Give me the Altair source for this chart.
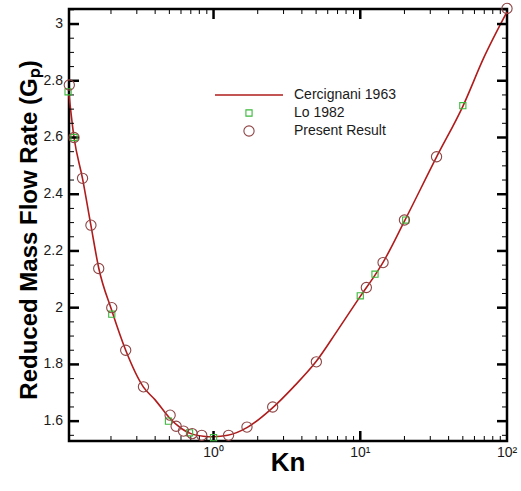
import altair as alt
import pandas as pd

# ---- data ----
cerc_kn = [0.1035, 0.112, 0.128, 0.146, 0.165, 0.2025, 0.252, 0.333, 0.40, 0.50, 0.60, 0.70, 0.85, 1.0,
           1.25, 1.7, 2.5, 3.5, 5.0, 7.0, 10.0, 12.6, 14.3, 20.0, 33.0, 50.0, 70.0, 100.0]
cerc_g = [2.75, 2.60, 2.455, 2.29, 2.14, 1.99, 1.85, 1.72, 1.675, 1.612, 1.575, 1.556, 1.547, 1.545,
          1.55, 1.578, 1.645, 1.72, 1.81, 1.92, 2.04, 2.115, 2.16, 2.305, 2.53, 2.71, 2.885, 3.043]

lo_kn = [0.102, 0.112, 0.2025, 0.493, 0.686, 1.0, 10.0, 12.6, 20.4, 50.0]
lo_g = [2.761, 2.60, 1.977, 1.600, 1.559, 1.542, 2.042, 2.118, 2.309, 2.712]

pr_kn = [0.104, 0.112, 0.128, 0.146, 0.165, 0.2025, 0.252, 0.333, 0.506, 0.556, 0.624, 0.715, 0.831,
         1.266, 1.69, 2.53, 5.02, 11.0, 14.3, 20.0, 33.1, 100.0]
pr_g = [2.785, 2.60, 2.456, 2.291, 2.138, 2.0, 1.85, 1.721, 1.621, 1.582, 1.565, 1.556, 1.550,
        1.550, 1.579, 1.650, 1.809, 2.071, 2.159, 2.309, 2.532, 3.055]

y_major = [1.6, 1.8, 2.0, 2.2, 2.4, 2.6, 2.8, 3.0]
y_major_text = ["1.6", "1.8", "2", "2.2", "2.4", "2.6", "2.8", "3"]
y_minor = [1.55, 1.65, 1.7, 1.75, 1.85, 1.9, 1.95, 2.05, 2.1, 2.15, 2.25, 2.3, 2.35, 2.45, 2.5, 2.55,
           2.65, 2.7, 2.75, 2.85, 2.9, 2.95, 3.05]
x_major = [1, 10]
x_minor = [0.2, 0.3, 0.4, 0.5, 0.6, 0.7, 0.8, 0.9, 2, 3, 4, 5, 6, 7, 8, 9, 20, 30, 40, 50, 60, 70, 80, 90]
x_labels = [1, 10, 100]
x_labels_text = ["10⁰", "10¹", "10²"]

x_title = "Kn"
y_title = "Reduced Mass Flow Rate (Gₚ)"
legend_labels = ["Cercignani 1963", "Lo 1982", "Present Result"]

W, H = 438, 432
FONT = "Liberation Sans"
LINE_C = "#b01c1c"
CIRC_C = "#8e4444"
SQ_C = "#3cb83c"
TXT_C = "#1a1a1a"

xs = alt.Scale(type="log", domain=[0.1035, 100], nice=False)
ys = alt.Scale(domain=[1.53, 3.053], nice=False, zero=False)


def Xn(f):
    return alt.X(f, type="quantitative", scale=xs, axis=None)


def Yn(f):
    return alt.Y(f, type="quantitative", scale=ys, axis=None)


cerc = pd.DataFrame({"kn": cerc_kn, "g": cerc_g})
lo = pd.DataFrame({"kn": lo_kn, "g": lo_g})
pr = pd.DataFrame({"kn": pr_kn, "g": pr_g})

line = alt.Chart(cerc).mark_line(color=LINE_C, strokeWidth=1.6, interpolate="monotone").encode(
    x=Xn("kn"), y=Yn("g"))
squares = alt.Chart(lo).mark_point(shape="square", size=38, filled=False, color=SQ_C,
                                   strokeWidth=1.1, opacity=1).encode(x=Xn("kn"), y=Yn("g"))
circles = alt.Chart(pr).mark_point(shape="circle", size=105, filled=False, color=CIRC_C,
                                   strokeWidth=1.1, opacity=1).encode(x=Xn("kn"), y=Yn("g"))

# inward ticks on all four sides
ymaj = pd.DataFrame({"v": y_major, "t": y_major_text})
ymin = pd.DataFrame({"v": y_minor})
xmaj = pd.DataFrame({"v": x_major})
xmin = pd.DataFrame({"v": x_minor})
xlab = pd.DataFrame({"v": x_labels, "t": x_labels_text})


def yticks(df, length, width):
    l = alt.Chart(df).mark_rule(color="black", strokeWidth=width).encode(
        y=Yn("v"), x=alt.value(0), x2=alt.value(length))
    r = alt.Chart(df).mark_rule(color="black", strokeWidth=width).encode(
        y=Yn("v"), x=alt.value(W - length), x2=alt.value(W))
    return [l, r]


def xticks(df, length, width):
    b = alt.Chart(df).mark_rule(color="black", strokeWidth=width).encode(
        x=Xn("v"), y=alt.value(H - length), y2=alt.value(H))
    t = alt.Chart(df).mark_rule(color="black", strokeWidth=width).encode(
        x=Xn("v"), y=alt.value(0), y2=alt.value(length))
    return [b, t]


ticks = yticks(ymaj, 10, 2.5) + yticks(ymin, 5, 1) + xticks(xmaj, 10, 2.5) + xticks(xmin, 5, 1)

# tick labels and axis titles as text marks
ylab_layer = alt.Chart(ymaj).mark_text(align="right", baseline="middle", font=FONT, fontSize=14,
                                       color=TXT_C).encode(
    y=Yn("v"), x=alt.value(-6), text="t:N")
xlab_layer = alt.Chart(xlab).mark_text(align="center", baseline="top", font=FONT, fontSize=14,
                                       color=TXT_C).encode(
    x=Xn("v"), y=alt.value(H + 5), text="t:N")
xtitle_layer = alt.Chart(pd.DataFrame({"t": [x_title]})).mark_text(
    align="center", baseline="alphabetic", font=FONT, fontSize=26, fontWeight="bold",
    color="black").encode(x=alt.value(W / 2), y=alt.value(H + 30), text="t:N")
ytitle_layer = alt.Chart(pd.DataFrame({"t": [y_title]})).mark_text(
    align="center", baseline="alphabetic", font=FONT, fontSize=24, fontWeight="bold",
    color="black", angle=270).encode(x=alt.value(-32), y=alt.value(221), text="t:N")

# legend (manual, inside the plot)
LX, LY, DY = 225, 86, 18
leg_layers = []
for i, lab in enumerate(legend_labels):
    leg_layers.append(
        alt.Chart(pd.DataFrame({"label": [lab]})).mark_text(
            align="left", baseline="middle", font=FONT, fontSize=14, color=TXT_C).encode(
            text="label:N", x=alt.value(LX), y=alt.value(LY + i * DY)))
one = pd.DataFrame({"k": [0]})
leg_layers.append(alt.Chart(one).mark_rule(color=LINE_C, strokeWidth=1.6).encode(
    x=alt.value(146), x2=alt.value(214), y=alt.value(LY)))
leg_layers.append(alt.Chart(one).mark_point(shape="square", size=38, filled=False, color=SQ_C,
                                            strokeWidth=1.1, opacity=1).encode(
    x=alt.value(180), y=alt.value(LY + DY)))
leg_layers.append(alt.Chart(one).mark_point(shape="circle", size=105, filled=False, color=CIRC_C,
                                            strokeWidth=1.1, opacity=1).encode(
    x=alt.value(180), y=alt.value(LY + 2 * DY)))

chart = alt.layer(line, *ticks, squares, circles, ylab_layer, xlab_layer, xtitle_layer,
                  ytitle_layer, *leg_layers).properties(
    width=W, height=H,
    padding={"left": 69, "top": 9, "right": 14, "bottom": 50},
    autosize=alt.AutoSizeParams(type="none"),
    background="white",
).configure_view(stroke="black", strokeWidth=2.5)

chart.save("out.html", embed_options={"renderer": "svg", "actions": False})
